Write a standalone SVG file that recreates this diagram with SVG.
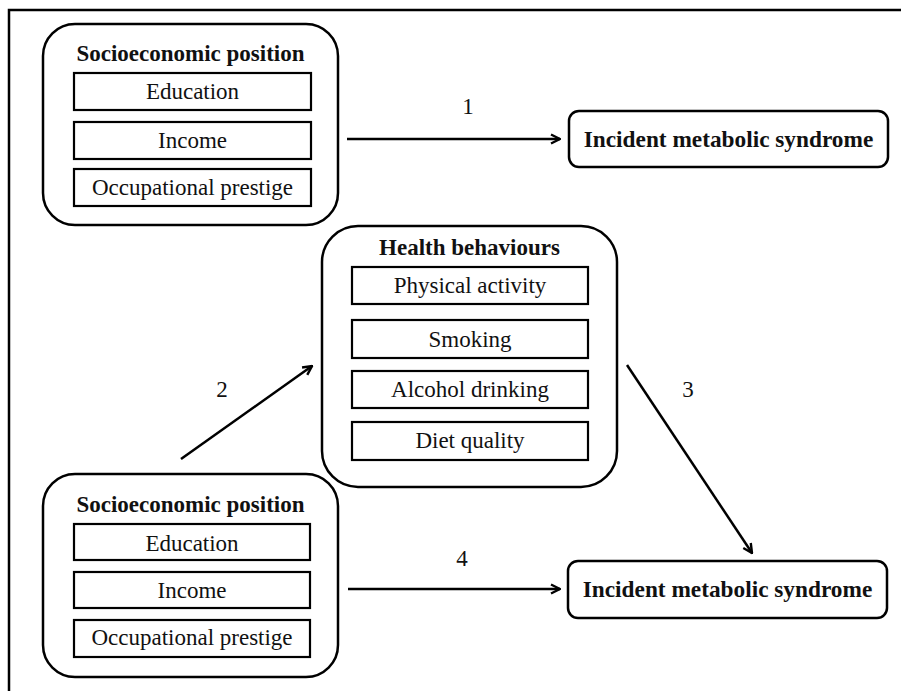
<svg xmlns="http://www.w3.org/2000/svg" width="901" height="691" viewBox="0 0 901 691">
<style>
.grp{fill:#fff;stroke:#000;stroke-width:2.5}
.box{fill:#fff;stroke:#000;stroke-width:2.2}
.t{font-family:"Liberation Serif","Times New Roman",serif;font-size:23px;fill:#111;text-anchor:middle}
.b{font-weight:bold}
.o{font-size:23.3px}
.edge{stroke:#000;stroke-width:2.5;fill:none;marker-end:url(#ah)}
</style>
<defs>
<marker id="ah" viewBox="0 0 12 12" refX="11" refY="6" markerWidth="12" markerHeight="12" markerUnits="userSpaceOnUse" orient="auto">
<path d="M2,1.5 L11,6 L2,10.5" fill="none" stroke="#000" stroke-width="2.4" stroke-linejoin="miter"/>
</marker>
</defs>
<rect width="901" height="691" fill="#fff"/>
<path d="M9,691 V10 H901" fill="none" stroke="#000" stroke-width="2.5"/>

<g id="sep1">
<rect class="grp" x="43" y="24" width="295" height="201" rx="32"/>
<text class="t b" x="190.5" y="61">Socioeconomic position</text>
<rect class="box" x="74" y="73" width="237" height="37"/>
<text class="t" x="192.5" y="99">Education</text>
<rect class="box" x="74" y="122" width="237" height="37"/>
<text class="t" x="192.5" y="148">Income</text>
<rect class="box" x="74" y="169" width="237" height="37"/>
<text class="t" x="192.5" y="195">Occupational prestige</text>
</g>

<g id="ims1">
<rect class="grp" x="569" y="111" width="319" height="56" rx="10"/>
<text class="t b o" x="728.5" y="147">Incident metabolic syndrome</text>
</g>

<g id="hb">
<rect class="grp" x="322" y="226" width="295" height="261" rx="36"/>
<text class="t b" x="469.5" y="255">Health behaviours</text>
<rect class="box" x="352" y="267" width="236" height="37"/>
<text class="t" x="470" y="293">Physical activity</text>
<rect class="box" x="352" y="320" width="236" height="38"/>
<text class="t" x="470" y="347">Smoking</text>
<rect class="box" x="352" y="371" width="236" height="37"/>
<text class="t" x="470" y="397">Alcohol drinking</text>
<rect class="box" x="352" y="422" width="236" height="38"/>
<text class="t" x="470" y="448">Diet quality</text>
</g>

<g id="sep2">
<rect class="grp" x="43" y="474" width="295" height="203" rx="32"/>
<text class="t b" x="190.5" y="512">Socioeconomic position</text>
<rect class="box" x="74" y="524" width="236" height="36"/>
<text class="t" x="192" y="551">Education</text>
<rect class="box" x="74" y="572" width="236" height="36"/>
<text class="t" x="192" y="598">Income</text>
<rect class="box" x="74" y="620" width="236" height="37"/>
<text class="t" x="192" y="645">Occupational prestige</text>
</g>

<g id="ims2">
<rect class="grp" x="568" y="561" width="319" height="57" rx="10"/>
<text class="t b o" x="727.5" y="597">Incident metabolic syndrome</text>
</g>

<g id="connectors">
<line class="edge" x1="347" y1="139" x2="560" y2="139"/>
<text class="t" x="468" y="114">1</text>
<line class="edge" x1="181" y1="459" x2="312" y2="366"/>
<text class="t" x="222" y="397">2</text>
<line class="edge" x1="627" y1="365" x2="752" y2="553"/>
<text class="t" x="688" y="397">3</text>
<line class="edge" x1="348" y1="589" x2="560" y2="589"/>
<text class="t" x="462" y="566">4</text>
</g>
</svg>
